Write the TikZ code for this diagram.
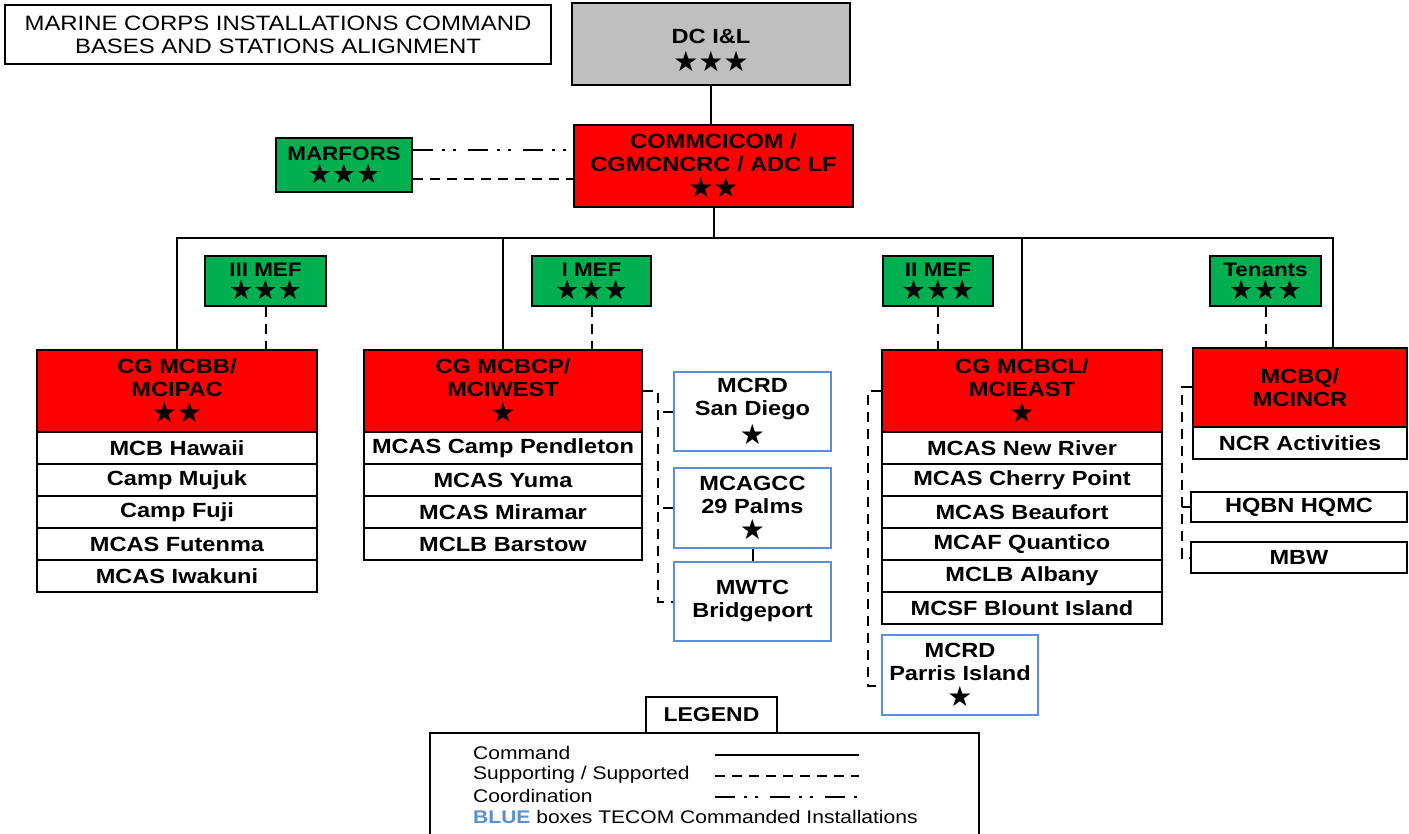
\documentclass[tikz,border=0pt]{standalone}
\usepackage{fontspec}
\setmainfont{Liberation Sans}[FakeStretch=1.15]
\newfontfamily\starfont{DejaVu Sans}
\definecolor{mcred}{RGB}{255,0,0}
\definecolor{mcgreen}{RGB}{0,176,80}
\definecolor{mcgray}{RGB}{191,191,191}
\definecolor{mcblue}{RGB}{91,142,214}
\newcommand{\mystars}[1]{{\starfont\fontsize{28}{26}\selectfont #1}}
\newcommand{\greenstars}[1]{{\starfont\fontsize{27}{24}\selectfont #1}}
\tikzset{
  box/.style={draw=black, line width=2.5pt, inner sep=0pt, align=center,
    font=\bfseries\fontsize{20.5}{23}\selectfont},
  redbox/.style={box, fill=mcred},
  graybox/.style={box, fill=mcgray},
  rowbox/.style={box, fill=white, minimum height=32},
  greenbox/.style={box, fill=mcgreen, font=\bfseries\fontsize{19.5}{21}\selectfont, minimum height=50},
  bluebox/.style={box, draw=mcblue, fill=white},
  plainbox/.style={draw=black, line width=2pt, inner sep=0pt, align=center, fill=white},
  cmd/.style={line width=2pt},
  sup/.style={line width=2pt, dash pattern=on 10pt off 7pt},
  coordl/.style={line width=2pt, dash pattern=on 20pt off 9pt on 3pt off 8pt on 3pt off 12pt},
  legtext/.style={anchor=west, inner sep=0pt, font=\fontsize{18.3}{20}\selectfont},
}
\begin{document}
\begin{tikzpicture}[x=1pt,y=-1pt]
\useasboundingbox (0,0) rectangle (1409,834);
\fill[white] (0,0) rectangle (1409,834);

% title
\node[plainbox, minimum width=546, minimum height=59, font=\fontsize{20.8}{23}\selectfont] (title) at (278,34.5)
  {MARINE CORPS INSTALLATIONS COMMAND\\BASES AND STATIONS ALIGNMENT};

% top
\node[graybox, minimum width=278, minimum height=82] (dc) at (711,44)
  {\rule{0pt}{28pt}DC I\&L\\[5pt]\mystars{★★★}};
\node[redbox, minimum width=279, minimum height=82] (comm) at (713.5,166)
  {COMMCICOM /\\CGMCNCRC / ADC LF\\[3pt]\mystars{★★}};
\node[greenbox, minimum width=136, minimum height=54] (marfors) at (344,165)
  {MARFORS\\[2pt]\greenstars{★★★}};

% MEFs
\node[greenbox, minimum width=121] (iiimef) at (265.5,281) {III MEF\\[2pt]\greenstars{★★★}};
\node[greenbox, minimum width=119] (imef) at (591.5,281) {I MEF\\[2pt]\greenstars{★★★}};
\node[greenbox, minimum width=110] (iimef) at (938,281) {II MEF\\[2pt]\greenstars{★★★}};
\node[greenbox, minimum width=111] (tenants) at (1265.5,281) {Tenants\\[2pt]\greenstars{★★★}};

% MCBB / MCIPAC
\node[redbox, minimum width=280, minimum height=82] (mcbb) at (177,391)
  {CG MCBB/\\MCIPAC\\[3pt]\mystars{★★}};
\node[rowbox, minimum width=280] (hawaii) at (177,448) {MCB Hawaii};
\node[rowbox, minimum width=280] (mujuk) at (177,480) {Camp Mujuk};
\node[rowbox, minimum width=280] (fuji) at (177,512) {Camp Fuji};
\node[rowbox, minimum width=280] (futenma) at (177,544) {MCAS Futenma};
\node[rowbox, minimum width=280] (iwakuni) at (177,576) {MCAS Iwakuni};

% MCBCP / MCIWEST
\node[redbox, minimum width=278, minimum height=82] (mcbcp) at (503,391)
  {CG MCBCP/\\MCIWEST\\[3pt]\mystars{★}};
\node[rowbox, minimum width=278] (pendleton) at (503,448) {MCAS Camp Pendleton};
\node[rowbox, minimum width=278] (yuma) at (503,480) {MCAS Yuma};
\node[rowbox, minimum width=278] (miramar) at (503,512) {MCAS Miramar};
\node[rowbox, minimum width=278] (barstow) at (503,544) {MCLB Barstow};

% blue boxes west
\node[bluebox, minimum width=157, minimum height=79] (sd) at (752.5,411.5)
  {MCRD\\San Diego\\[3pt]\mystars{★}};
\node[bluebox, minimum width=157, minimum height=80] (agcc) at (752.5,508)
  {MCAGCC\\29 Palms\\[3pt]\mystars{★}};
\node[bluebox, minimum width=157, minimum height=79] (mwtc) at (752.5,601.5)
  {MWTC\\Bridgeport};

% MCBCL / MCIEAST
\node[redbox, minimum width=280, minimum height=82] (mcbcl) at (1022,391)
  {CG MCBCL/\\MCIEAST\\[3pt]\mystars{★}};
\node[rowbox, minimum width=280] (newriver) at (1022,448) {MCAS New River};
\node[rowbox, minimum width=280] (cherry) at (1022,480) {MCAS Cherry Point};
\node[rowbox, minimum width=280] (beaufort) at (1022,512) {MCAS Beaufort};
\node[rowbox, minimum width=280] (quantico) at (1022,544) {MCAF Quantico};
\node[rowbox, minimum width=280] (albany) at (1022,576) {MCLB Albany};
\node[rowbox, minimum width=280] (blount) at (1022,608) {MCSF Blount Island};
\node[bluebox, minimum width=156, minimum height=80] (pi) at (960,675)
  {MCRD\\Parris Island\\[3pt]\mystars{★}};

% MCBQ / MCINCR
\node[redbox, minimum width=214, minimum height=79] (mcbq) at (1300,387.5)
  {MCBQ/\\MCINCR};
\node[rowbox, minimum width=214] (ncr) at (1300,443) {NCR Activities};
\node[rowbox, minimum width=216, minimum height=30] (hqbn) at (1299,507) {HQBN HQMC};
\node[rowbox, minimum width=216, minimum height=31] (mbw) at (1299,557.5) {MBW};

% command lines
\coordinate (bus) at (713,238);
\coordinate (q) at (1333,348);
\draw[cmd] (dc.south) -- (dc.south |- comm.north);
\draw[cmd] (comm.south) -- (comm.south |- bus);
\draw[cmd] (mcbb.north) |- (bus) -| (q);
\draw[cmd] (mcbcp.north) -- (mcbcp.north |- bus);
\draw[cmd] (mcbcl.north) -- (mcbcl.north |- bus);
\draw[cmd] (agcc.south) -- (mwtc.north);

% MARFORS links
\draw[coordl] ([yshift=15pt]marfors.east) -- ([yshift=15pt]marfors.east -| comm.west);
\draw[sup] ([yshift=-14pt]marfors.east) -- ([yshift=-14pt]marfors.east -| comm.west);

% supporting lines from MEFs
\draw[sup] (iiimef.south) -- (iiimef.south |- mcbb.north);
\draw[sup] (imef.south) -- (imef.south |- mcbcp.north);
\draw[sup] (iimef.south) -- (iimef.south |- mcbcl.north);
\draw[sup] (tenants.south) -- (tenants.south |- mcbq.north);

% west TECOM
\coordinate (pa) at (658,390);
\draw[sup] (mcbcp.east) -- (mcbcp.east -| pa) |- (mwtc.west);
\draw[sup] (sd.west) -- (sd.west -| pa);
\draw[sup] (agcc.west) -- (agcc.west -| pa);

% east
\coordinate (pb) at (868,388);
\draw[sup] (mcbcl.west) -- (mcbcl.west -| pb) |- ([yshift=-11pt]pi.west);

% NCR
\coordinate (pc) at (1182,388);
\draw[sup] (mcbq.west) -- (mcbq.west -| pc) |- (mbw.west);
\draw[sup] (hqbn.west) -- (hqbn.west -| pc);

% legend
\node[plainbox, minimum width=549, minimum height=120, line width=2.5pt] (legbox) at (704.5,793) {};
\node[plainbox, minimum width=131, minimum height=36, line width=2.5pt, font=\bfseries\fontsize{20}{22}\selectfont] (legtab) at (711.5,715) {LEGEND};
\node[legtext] (lcmd) at (473,753) {Command};
\node[legtext] (lsup) at (473,775) {Supporting / Supported};
\node[legtext] (lcoord) at (473,796) {Coordination};
\node[legtext] (lblue) at (473,817) {\textcolor{mcblue}{\bfseries BLUE} boxes TECOM Commanded Installations};
\coordinate (la1) at (715,755); \coordinate (lb1) at (859,755);
\coordinate (la2) at (715,776); \coordinate (lb2) at (859,776);
\coordinate (la3) at (715,797); \coordinate (lb3) at (859,797);
\draw[cmd] (la1) -- (lb1);
\draw[sup] (la2) -- (lb2);
\draw[coordl] (la3) -- (lb3);
\end{tikzpicture}
\end{document}
